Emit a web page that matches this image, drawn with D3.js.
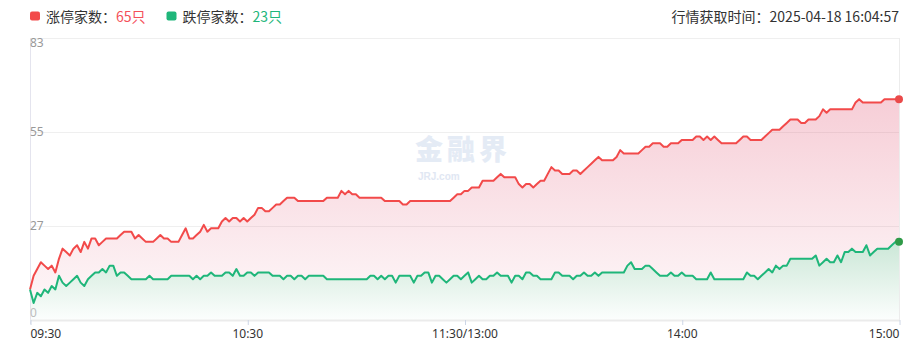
<!DOCTYPE html>
<html><head><meta charset="utf-8">
<script src="https://cdn.jsdelivr.net/npm/d3@7"></script>
<style>
body{margin:0;background:#fff;}
svg{display:block;font-family:"Noto Sans CJK SC","Noto Sans",sans-serif;}
</style></head><body>
<svg id="c" width="920" height="359"></svg>
<script>
// 涨停家数 per minute (09:30 ... 11:30/13:00 ... 15:00), 241 points
const limitUp = [
 9,13,15,17,16,15,16,14,18,21,
 20,19,21,22,20,23,21,24,24,22,
 23,24,24,24,24,25,26,26,26,24,
 25,24,23,23,23,24,25,24,24,23,
 23,23,25,27,24,24,25,26,28,26,
 27,27,27,29,30,29,30,30,29,30,
 29,30,31,33,33,32,32,33,34,34,
 35,36,36,36,35,35,35,35,35,35,
 35,35,36,36,36,36,38,37,38,37,
 37,36,36,36,36,36,36,36,35,35,
 35,35,35,34,34,35,35,35,35,35,
 35,35,35,35,35,35,35,36,37,37,
 38,38,39,39,39,41,41,41,41,42,
 43,42,42,42,42,40,39,40,40,39,
 40,41,41,43,45,44,44,43,43,43,
 44,44,43,44,45,46,47,48,47,47,
 47,47,48,50,49,49,49,49,49,50,
 51,51,52,52,52,51,51,52,52,52,
 53,53,53,53,54,54,53,54,53,54,
 53,52,52,52,52,52,53,54,54,53,
 53,53,53,54,55,56,56,56,57,58,
 59,59,59,58,58,59,59,59,60,62,
 61,62,62,62,62,62,62,62,64,65,
 64,64,64,64,64,64,65,65,65,65,
 65
];
// 跌停家数 per minute
const limitDown = [
 9,5,8,7,9,8,10,9,13,11,
 10,11,12,13,11,10,12,13,14,14,
 15,14,16,16,13,14,14,13,12,12,
 12,12,12,13,12,12,12,12,12,13,
 13,13,13,13,13,12,13,12,13,13,
 14,13,13,13,14,14,13,15,13,13,
 14,14,13,14,14,14,14,13,13,13,
 12,13,13,12,13,13,12,13,13,13,
 13,13,12,12,12,12,12,12,12,12,
 12,12,12,12,13,13,12,13,12,13,
 13,11,13,13,13,13,11,13,13,14,
 14,11,13,13,12,11,12,13,13,12,
 13,14,11,12,13,12,12,13,13,14,
 13,13,13,11,13,13,12,14,14,13,
 13,12,12,12,12,14,14,13,13,13,
 12,13,13,14,13,13,14,13,14,14,
 14,14,14,14,14,16,17,15,15,15,
 16,16,15,14,13,13,13,14,13,13,
 14,13,13,13,12,12,12,12,14,12,
 12,12,12,12,12,12,12,12,14,13,
 13,12,13,14,15,14,16,15,16,16,
 18,18,18,18,18,18,18,19,16,17,
 18,17,17,19,17,20,20,21,20,20,
 20,22,19,20,21,21,21,21,22,23,
 23
];
const xTickIndex = [0, 60, 120, 180, 240];
const xTickLabels = ["09:30", "10:30", "11:30/13:00", "14:00", "15:00"];
const yMax = 83;
const yTickLabels = ["0", "27", "55", "83"];
const legendNames = ["涨停家数：", "跌停家数："];
const legendCounts = ["65只", "23只"];
const timeLabel = "行情获取时间：2025-04-18 16:04:57";

const RED = "#f24a4a", GREEN = "#1fb67a";
const svg = d3.select("#c");
const x = d3.scaleLinear().domain([0, limitUp.length - 1]).range([30, 899]);
const y = d3.scaleLinear().domain([0, yMax]).range([320, 38]);
const yTickValues = yTickLabels.map((d, i) => yMax * i / (yTickLabels.length - 1));

const defs = svg.append("defs");
const gr = defs.append("linearGradient").attr("id", "gRed").attr("x1", 0).attr("y1", 0).attr("x2", 0).attr("y2", 1);
gr.append("stop").attr("offset", 0).attr("stop-color", "rgb(222,66,100)").attr("stop-opacity", 0.26);
gr.append("stop").attr("offset", 1).attr("stop-color", "rgb(222,66,100)").attr("stop-opacity", 0.03);
const gg = defs.append("linearGradient").attr("id", "gGreen").attr("x1", 0).attr("y1", 0).attr("x2", 0).attr("y2", 1);
gg.append("stop").attr("offset", 0).attr("stop-color", "#cbe7d7");
gg.append("stop").attr("offset", 1).attr("stop-color", "#fcfefd");

// grid
svg.append("g").selectAll("line").data(yTickValues.slice(1)).join("line")
  .attr("x1", 30).attr("x2", 899).attr("y1", d => Math.round(y(d)) + 0.5).attr("y2", d => Math.round(y(d)) + 0.5)
  .attr("stroke", "#efefef").attr("stroke-width", 1);

// areas
const area = () => d3.area().x((d, i) => x(i)).y0(y(0)).y1(d => y(d));
svg.append("path").datum(limitUp).attr("d", area()).attr("fill", "url(#gRed)");
svg.append("path").datum(limitDown).attr("d", area()).attr("fill", "url(#gGreen)");

// watermark
const wm = svg.append("g").attr("opacity", 0.9);
wm.append("text").attr("x", 415).attr("y", 160).attr("font-size", 28).attr("font-weight", 900)
  .attr("letter-spacing", 4).attr("fill", "#e2e9f5").text("金融界");
wm.append("text").attr("x", 418).attr("y", 180).attr("font-size", 10).attr("font-weight", 700)
  .attr("font-family", "Arial, 'Liberation Sans', sans-serif").attr("fill", "#dde5f2").text("JRJ.com");

// axes frame
svg.append("line").attr("x1", 30.5).attr("x2", 30.5).attr("y1", 38).attr("y2", 324).attr("stroke", "#e4e4ee");
svg.append("line").attr("x1", 899.5).attr("x2", 899.5).attr("y1", 38).attr("y2", 320).attr("stroke", "#ececec");
svg.append("line").attr("x1", 30).attr("x2", 900).attr("y1", 320.5).attr("y2", 320.5).attr("stroke", "#ebebeb").attr("stroke-width", 2);

// x axis
const xAxis = d3.axisBottom(x).tickValues(xTickIndex).tickSize(5).tickPadding(4)
  .tickFormat((d, i) => xTickLabels[i]);
const gx = svg.append("g").attr("transform", "translate(0,320)").call(xAxis);
gx.select(".domain").remove();
gx.selectAll(".tick line").attr("stroke", "#cdd6e6").attr("transform", "translate(0.5,0)");
gx.selectAll(".tick text").attr("fill", "#333").attr("font-size", 12)
  .attr("font-family", "'Noto Sans','Noto Sans CJK SC',sans-serif")
  .attr("text-anchor", (d, i) => i === 0 ? "start" : (i === xTickIndex.length - 1 ? "end" : "middle"));

// y labels
svg.append("g").selectAll("text").data(yTickValues).join("text")
  .attr("x", 30).attr("font-size", 12)
  .attr("font-family", "'Noto Sans','Noto Sans CJK SC',sans-serif")
  .attr("y", (d, i) => y(d) + (i === 0 ? -3 : (i === yTickValues.length - 1 ? 9 : 3.5)))
  .attr("fill", (d, i) => i === 0 ? "#bdbdbd" : "#999")
  .text((d, i) => yTickLabels[i]);

// lines
const line = d3.line().x((d, i) => x(i)).y(d => y(d));
svg.append("path").datum(limitUp).attr("d", line).attr("fill", "none").attr("stroke", RED)
  .attr("stroke-width", 2).attr("stroke-linejoin", "round");
svg.append("path").datum(limitDown).attr("d", line).attr("fill", "none").attr("stroke", GREEN)
  .attr("stroke-width", 2).attr("stroke-linejoin", "round");

// end dots
const last = limitUp.length - 1;
svg.append("circle").attr("cx", x(last)).attr("cy", y(limitUp[last])).attr("r", 4).attr("fill", "#ea4a4a");
svg.append("circle").attr("cx", x(last)).attr("cy", y(limitDown[last])).attr("r", 4).attr("fill", "#2f9a48");

// legend
const legX = [30, 166.5];
const legColors = [RED, GREEN];
const legCountColors = ["#f4505a", "#1fb67a"];
legendNames.forEach((n, i) => {
  svg.append("rect").attr("x", legX[i]).attr("y", 11.5).attr("width", 10).attr("height", 9)
    .attr("rx", 2).attr("fill", legColors[i]);
  const t = svg.append("text").attr("x", legX[i] + 16).attr("y", 21.5).attr("font-size", 14).attr("fill", "#333");
  t.append("tspan").text(n);
  t.append("tspan").attr("fill", legCountColors[i]).text(legendCounts[i]);
});
svg.append("text").attr("x", 899).attr("y", 21.5).attr("text-anchor", "end").attr("font-size", 14)
  .attr("fill", "#333").text(timeLabel);
</script>
</body></html>
